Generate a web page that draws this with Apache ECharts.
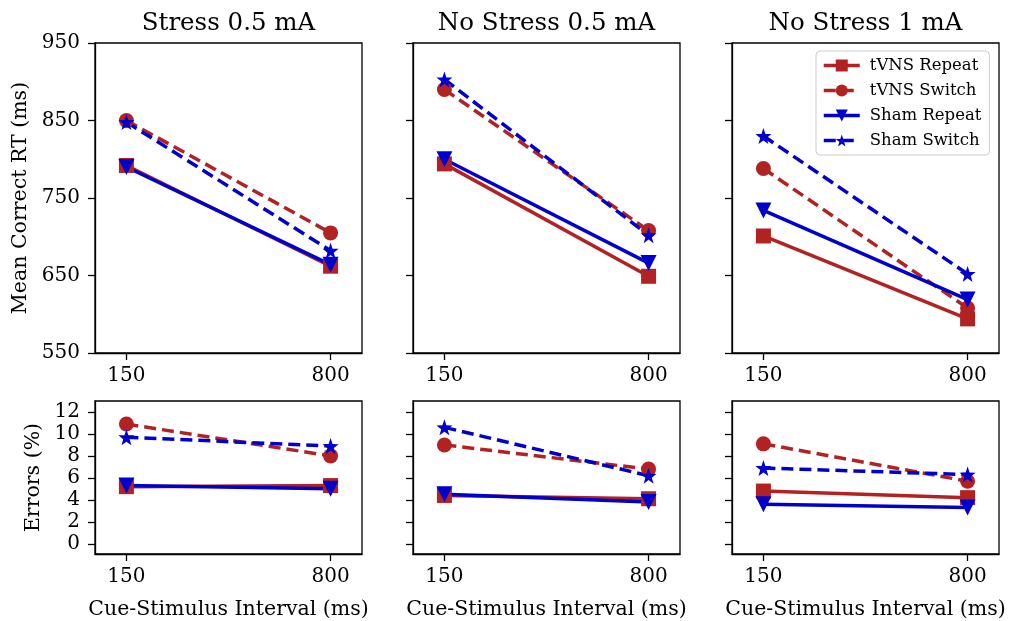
<!DOCTYPE html>
<html><head><meta charset="utf-8">
<script src="https://cdn.jsdelivr.net/npm/echarts@6/dist/echarts.min.js"></script>
<style>html,body{margin:0;padding:0;background:#fff}#c{width:1012px;height:621px}</style>
</head><body><div id="c"></div>
<script>
const csi = [150, 800];
const panelTitles = ['Stress 0.5 mA', 'No Stress 0.5 mA', 'No Stress 1 mA'];
const seriesNames = ['tVNS Repeat', 'tVNS Switch', 'Sham Repeat', 'Sham Switch'];
// Mean correct RT (ms), per panel [csi150, csi800]
const tvnsRepeatRT = [[792, 662], [794, 649], [701, 594]];
const tvnsSwitchRT = [[850, 705], [890, 708], [788, 608]];
const shamRepeatRT = [[790, 664], [800, 666], [734, 619]];
const shamSwitchRT = [[848, 682], [903, 702], [830, 652]];
// Errors (%)
const tvnsRepeatErr = [[5.2, 5.3], [4.4, 4.1], [4.8, 4.2]];
const tvnsSwitchErr = [[10.9, 8.0], [9.0, 6.8], [9.1, 5.7]];
const shamRepeatErr = [[5.3, 5.0], [4.5, 3.8], [3.6, 3.3]];
const shamSwitchErr = [[9.7, 8.9], [10.6, 6.2], [6.9, 6.3]];
const rtTicks = [550, 650, 750, 850, 950];
const errTicks = [0, 2, 4, 6, 8, 10, 12];

const RED = '#B22222', BLUE = '#0000CD';
const FONT = 'DejaVu Serif';
const STAR = 'path://M0,-10 L2.35,-3.24 L9.51,-3.09 L3.8,1.24 L5.88,8.09 L0,4 L-5.88,8.09 L-3.8,1.24 L-9.51,-3.09 L-2.35,-3.24 Z';
const styles = [
  {color: RED, type: 'solid', symbol: 'rect', size: 15, rot: 0},
  {color: RED, type: 'dashed', symbol: 'circle', size: 15, rot: 0},
  {color: BLUE, type: 'solid', symbol: 'triangle', size: 16, rot: 180},
  {color: BLUE, type: 'dashed', symbol: STAR, size: 16, rot: 0}
];
const rtData = [tvnsRepeatRT, tvnsSwitchRT, shamRepeatRT, shamSwitchRT];
const errData = [tvnsRepeatErr, tvnsSwitchErr, shamRepeatErr, shamSwitchErr];

const lefts = [95, 413, 732];
const W = 267;
const rows = [{top: 43, height: 310}, {top: 401, height: 154}];

const grid = [], xAxis = [], yAxis = [], series = [], title = [];
let gi = 0;
for (let r = 0; r < 2; r++) {
  for (let c = 0; c < 3; c++) {
    grid.push({left: lefts[c], top: rows[r].top, width: W, height: rows[r].height,
      show: true, borderColor: '#000', borderWidth: 1.3, containLabel: false});
    xAxis.push({type: 'value', gridIndex: gi, min: 50, max: 900,
      axisLine: {show: true, onZero: false, lineStyle: {color: '#000', width: 1.3}},
      axisTick: {show: true, length: 7, lineStyle: {color: '#000', width: 1.3}, customValues: csi},
      axisLabel: {show: true, customValues: csi, color: '#000', fontFamily: FONT, fontSize: 20, margin: 13},
      splitLine: {show: false},
      name: r === 1 ? 'Cue-Stimulus Interval (ms)' : '', nameLocation: 'middle', nameGap: 45,
      nameTextStyle: {color: '#000', fontFamily: FONT, fontSize: 20.5}
    });
    const ticks = r === 0 ? rtTicks : errTicks;
    yAxis.push({type: 'value', gridIndex: gi,
      min: r === 0 ? 550 : -0.93, max: r === 0 ? 950 : 13,
      axisLine: {show: true, onZero: false, lineStyle: {color: '#000', width: 1.3}},
      axisTick: {show: true, length: 7, lineStyle: {color: '#000', width: 1.3}, customValues: ticks},
      axisLabel: {show: c === 0, customValues: ticks, color: '#000', fontFamily: FONT, fontSize: 20, margin: 15},
      splitLine: {show: false},
      name: c === 0 ? (r === 0 ? 'Mean Correct RT (ms)' : 'Errors (%)') : '',
      nameLocation: 'middle', nameGap: r === 0 ? 64 : 51,
      nameTextStyle: {color: '#000', fontFamily: FONT, fontSize: 20.5}
    });
    const dataSet = r === 0 ? rtData : errData;
    for (let s = 0; s < 4; s++) {
      const st = styles[s];
      series.push({
        type: 'line', name: seriesNames[s], xAxisIndex: gi, yAxisIndex: gi,
        data: csi.map((x, k) => [x, dataSet[s][c][k]]),
        symbol: st.symbol, symbolSize: st.size, symbolRotate: st.rot,
        lineStyle: {color: st.color, width: 3.5, type: st.type === 'dashed' ? [12, 6] : 'solid'},
        itemStyle: {color: st.color, borderWidth: 0},
        emphasis: {disabled: true}, animation: false, silent: true
      });
    }
    gi++;
  }
}
for (let c = 0; c < 3; c++) {
  title.push({text: panelTitles[c], left: lefts[c] + W / 2 - 5, top: 6, textAlign: 'center',
    textStyle: {fontFamily: FONT, fontSize: 24.5, fontWeight: 'normal', color: '#000'}});
}

const chart = echarts.init(document.getElementById('c'), null, {renderer: 'canvas'});
chart.setOption({
  animation: false,
  backgroundColor: '#fff',
  title: title,
  grid: grid, xAxis: xAxis, yAxis: yAxis, series: series,
  legend: {
    data: seriesNames, orient: 'vertical', left: 816, top: 51,
    itemWidth: 36, itemHeight: 15, itemGap: 8,
    padding: [6, 8, 6, 6],
    backgroundColor: 'rgba(255,255,255,0.8)', borderColor: '#cccccc', borderWidth: 1, borderRadius: 4,
    lineStyle: {width: 3.5},
    textStyle: {fontFamily: FONT, fontSize: 16.5, color: '#000', padding: [0, 0, 0, 5]},
    selectedMode: false
  }
});
</script></body></html>
